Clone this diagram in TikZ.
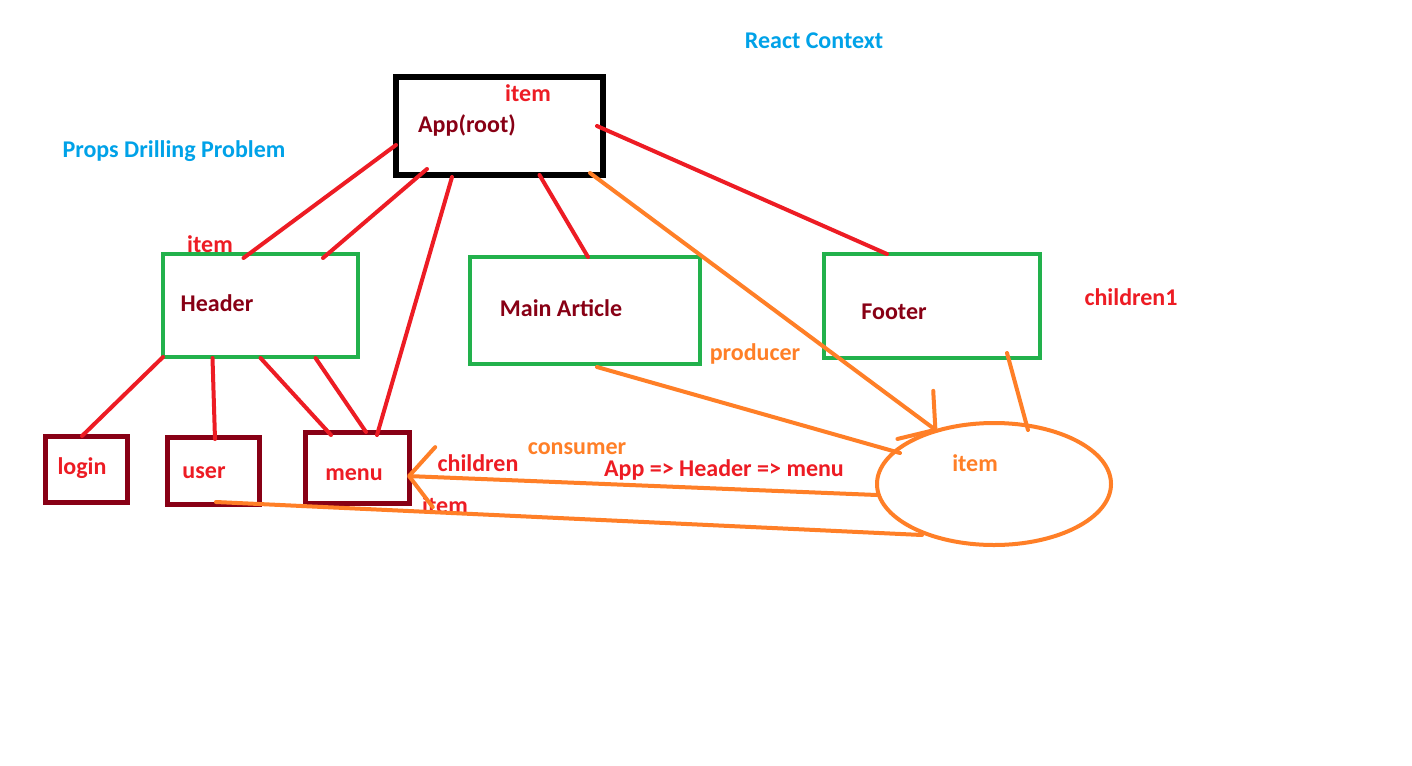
\documentclass[tikz,border=0pt]{standalone}
\usepackage{fontspec}
\setmainfont{Carlito}
\usetikzlibrary{arrows.meta,shapes.geometric}
\definecolor{paintred}{HTML}{ED1C24}
\definecolor{paintdark}{HTML}{880015}
\definecolor{paintgreen}{HTML}{22B14C}
\definecolor{paintorange}{HTML}{FF7F27}
\definecolor{paintblue}{HTML}{00A2E8}
\begin{document}
\begin{tikzpicture}[x=1pt,y=-1pt]
            \tikzstyle{box}=[draw,rectangle,inner sep=0,outer sep=0,line width=4]
            \tikzstyle{root box}=[box,draw=black,line width=5.5]
            \tikzstyle{green box}=[box,draw=paintgreen]
            \tikzstyle{leaf box}=[box,draw=paintdark,line width=5]
            \tikzstyle{word}=[font=\fontsize{24}{28}\selectfont\bfseries,anchor=base,inner sep=0]
            \tikzstyle{prop}=[paintred,line width=4,line cap=round]
            \tikzstyle{ctx line}=[paintorange,line width=4,line cap=round]
            \tikzstyle{ctx arrow}=[ctx line,-{Straight Barb[length=25pt,width=60pt,round]}]

            \path[use as bounding box,fill=white] (0,0) rectangle (1412,765);

            \node(app)[root box,minimum width=207,minimum height=98] at (499.5,126) {};
            \node(header)[green box,minimum width=195,minimum height=103] at (260.5,305.5) {};
            \node(article)[green box,minimum width=230,minimum height=107] at (585,310.5) {};
            \node(footer)[green box,minimum width=216,minimum height=104] at (932,306) {};
            \node(login)[leaf box,minimum width=82,minimum height=66] at (86,469) {};
            \node(user)[leaf box,minimum width=92,minimum height=67] at (213,470.5) {};
            \node(menu)[leaf box,minimum width=104,minimum height=71] at (357,467.5) {};
            \node(ctx)[ellipse,draw=paintorange,line width=4,inner sep=0,outer sep=0,
              minimum width=234,minimum height=122] at (994,484) {};

            \node(react)[word,paintblue] at (814,49) {React Context};
            \node(props)[word,paintblue] at (174,157) {Props Drilling Problem};
            \node(appitem)[word,paintred] at (528,102) {item};
            \node(apptext)[word,paintdark] at (467,132) {App(root)};
            \node(headeritem)[word,paintred] at (210,252) {item};
            \node(headertext)[word,paintdark] at (217,311) {Header};
            \node(articletext)[word,paintdark] at (561,316) {Main Article};
            \node(footertext)[word,paintdark] at (894,319) {Footer};
            \node(children1)[word,paintred] at (1131,305) {children1};
            \node(producer)[word,paintorange] at (755,360) {producer};
            \node(logintext)[word,paintred] at (82,474) {login};
            \node(usertext)[word,paintred] at (204,478) {user};
            \node(menutext)[word,paintred] at (354,480) {menu};
            \node(consumer)[word,paintorange] at (577,454) {consumer};
            \node(children)[word,paintred] at (478,471) {children};
            \node(path)[word,paintred] at (724,476) {App => Header => menu};
            \node(menuitem)[word,paintred] at (445,513) {item};
            \node(ctxitem)[word,paintorange] at (975,471) {item};

            \draw[prop] ([yshift=-19]app.west) -- ([xshift=-17,yshift=-4]header.north);
            \draw[prop] ([xshift=31,yshift=6]app.south west) -- ([xshift=-35,yshift=-4]header.north east);
            \draw[prop] ([xshift=56,yshift=-2]app.south west) -- ([xshift=20,yshift=-3]menu.north);
            \draw[prop] ([xshift=40]app.south) -- ([xshift=3]article.north);
            \draw[prop] ([xshift=-6]app.east) -- ([xshift=-45]footer.north);
            \draw[prop] (header.south west) -- ([xshift=-4]login.north);
            \draw[prop] ([xshift=-48,yshift=-1]header.south) -- ([xshift=2,yshift=-2]user.north);
            \draw[prop] ([yshift=-1]header.south) -- ([xshift=-26,yshift=-3]menu.north);
            \draw[prop] ([xshift=55,yshift=-1]header.south) -- ([xshift=9]menu.north);

            \draw[ctx arrow] ([xshift=-13,yshift=2]app.south east) -- ([xshift=-57,yshift=-8]ctx.north);
            \draw[ctx line] ([xshift=12,yshift=-3]article.south) -- ([xshift=23,yshift=31]ctx.west);
            \draw[ctx line] ([xshift=75,yshift=5]footer.south) -- ([xshift=34,yshift=-7]ctx.north);
            \draw[ctx arrow] ([yshift=-11]ctx.west) -- ([xshift=-2,yshift=-8.5]menu.east);
            \draw[ctx line] ([xshift=-72,yshift=10]ctx.south) -- ([xshift=3,yshift=2]user.south);
        \end{tikzpicture}
\end{document}
